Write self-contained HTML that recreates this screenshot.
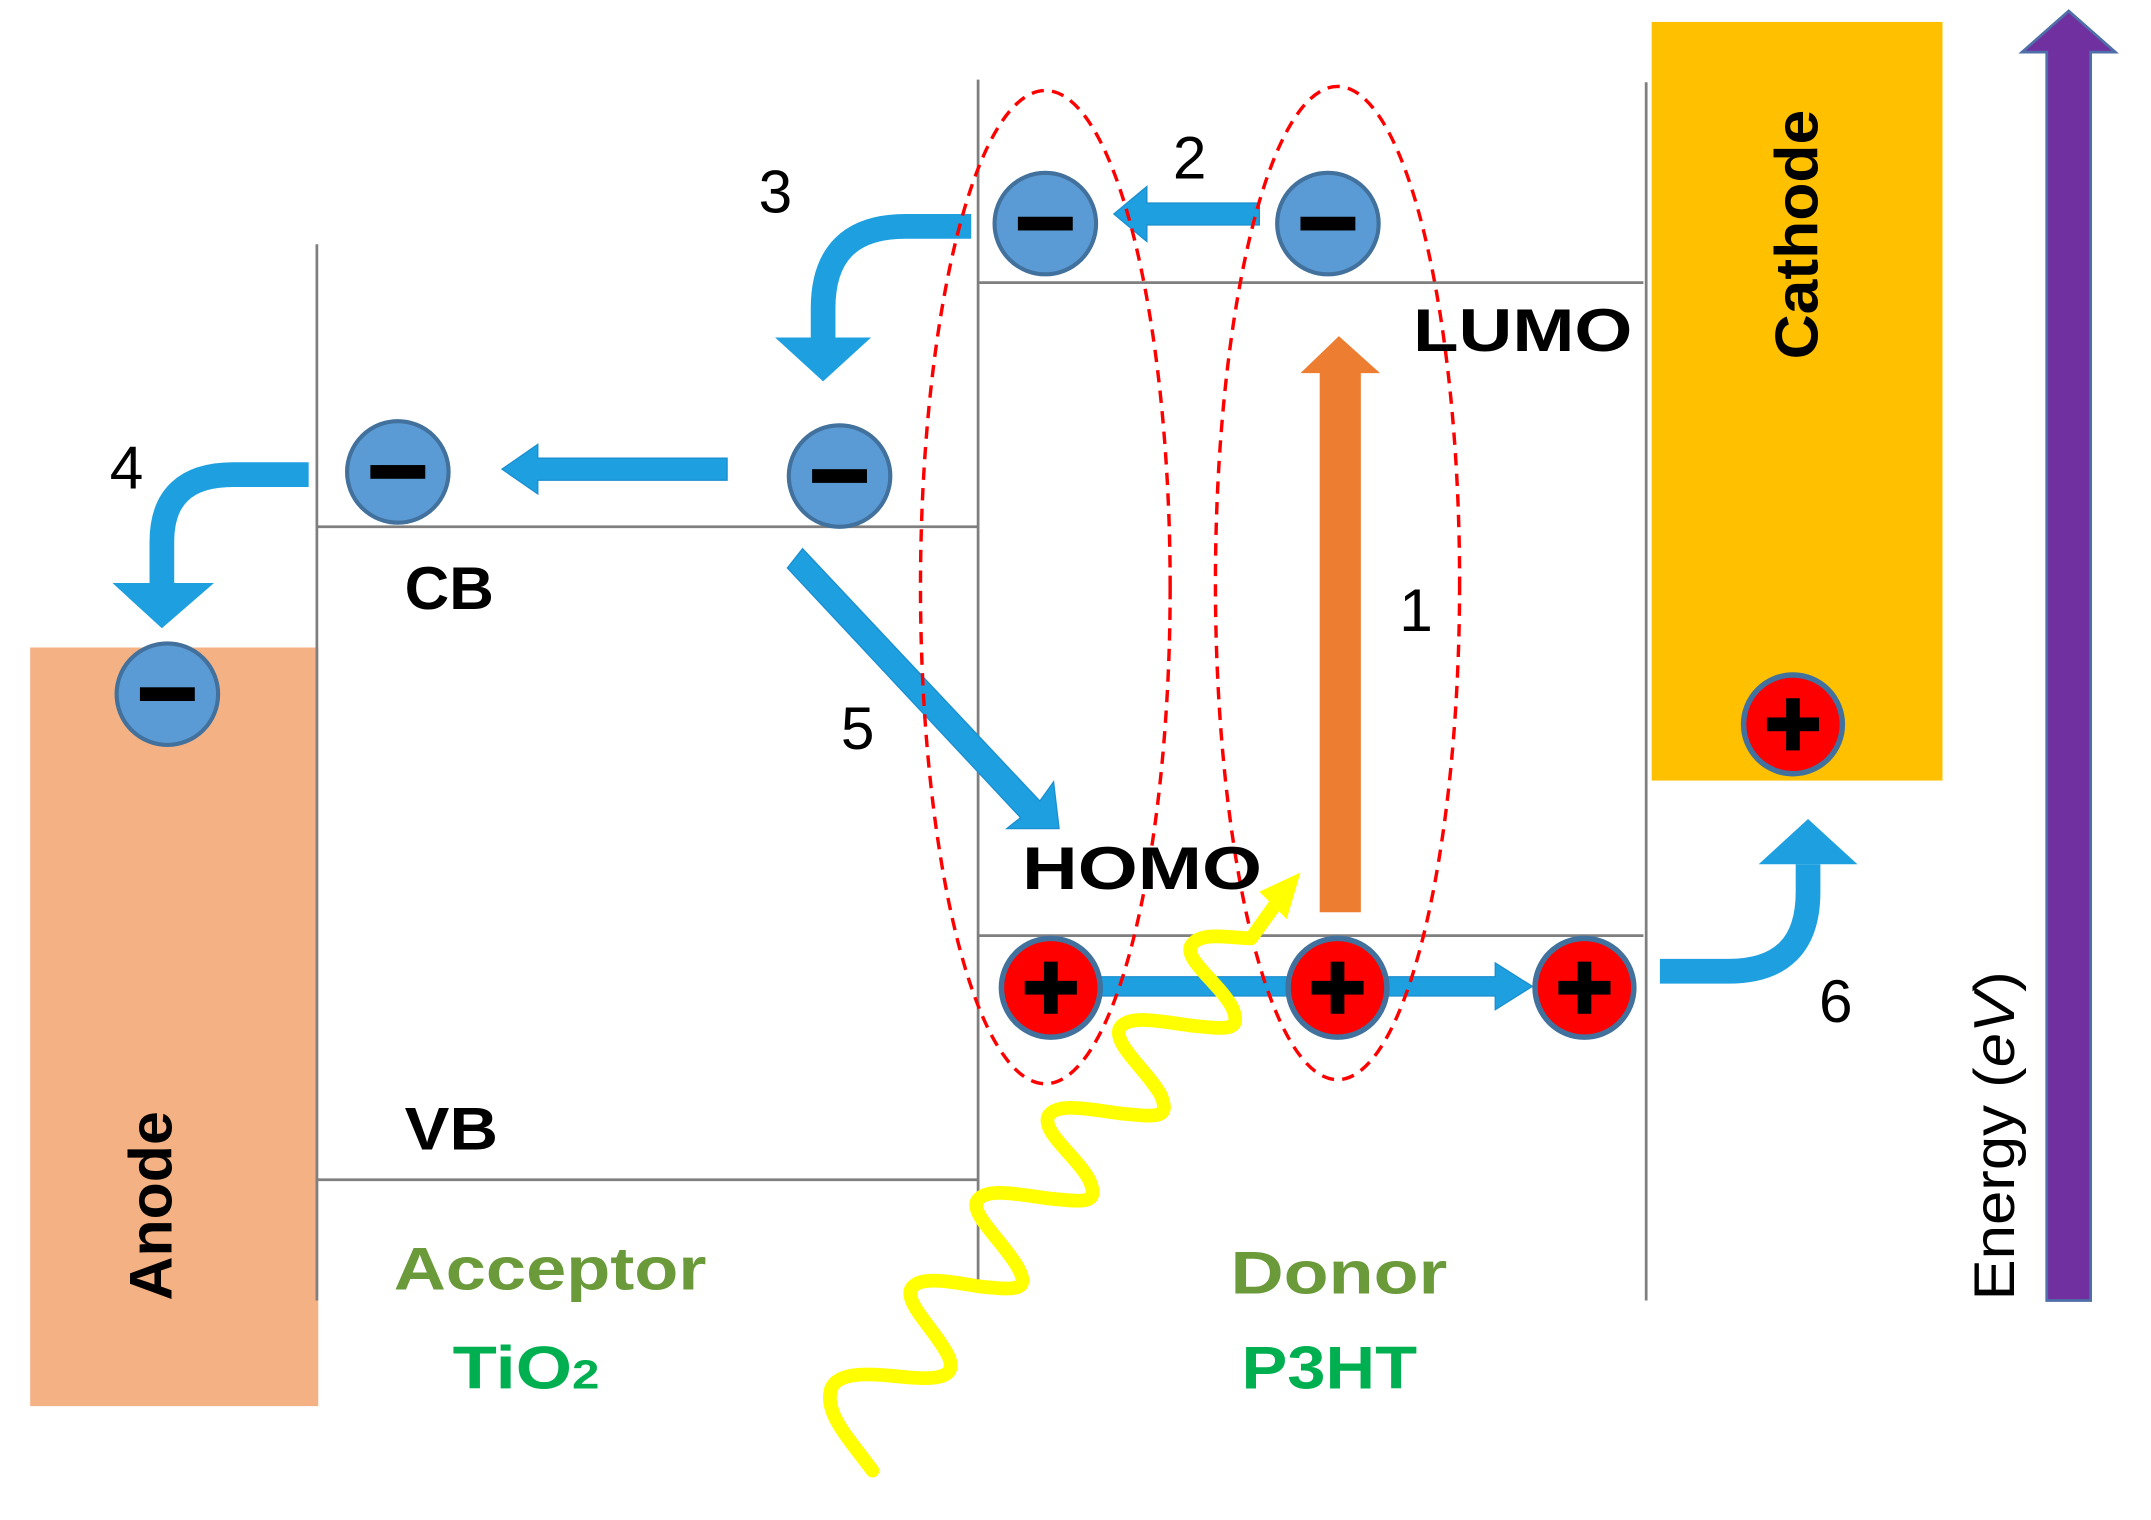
<!DOCTYPE html>
<html><head><style>html,body{margin:0;padding:0;background:#fff}svg{display:block}</style></head><body>
<svg width="2151" height="1520" viewBox="0 0 1568 1108" preserveAspectRatio="none" xmlns="http://www.w3.org/2000/svg" font-family="Liberation Sans, DejaVu Sans, sans-serif">
<defs>
<g id="el"><circle r="37" fill="#5b9bd5" stroke="#41719c" stroke-width="3"/><rect x="-20" y="-5" width="40" height="10" fill="#000"/></g>
<g id="ho"><circle r="36" fill="#ff0000" stroke="#41719c" stroke-width="4"/><rect x="-19" y="-5" width="38" height="10" fill="#000"/><rect x="-5" y="-19" width="10" height="38" fill="#000"/></g>
</defs>
<rect x="22" y="472" width="210" height="553" fill="#f4b183"/>
<rect x="1204" y="16" width="212" height="553" fill="#ffc000"/>
<g stroke="#7f7f7f" stroke-width="2">
<line x1="231" y1="178" x2="231" y2="948"/><line x1="713" y1="58" x2="713" y2="940"/><line x1="1200" y1="60" x2="1200" y2="948"/>
<line x1="231" y1="384" x2="713" y2="384"/><line x1="231" y1="860" x2="713" y2="860"/>
<line x1="713" y1="206" x2="1198" y2="206"/><line x1="713" y1="682" x2="1198" y2="682"/>
</g>
<polygon points="1492,948 1492,38 1474,38 1508,8 1542,38 1524,38 1524,948" fill="#7030a0" stroke="#4f6fa8" stroke-width="2"/>
<polygon points="962,665 962,272 948,272 976,245 1006,272 992,272 992,665" fill="#ed7d31"/>
<g fill="#1ea0e0" stroke="#1b8fd0" stroke-width="1">
<polygon points="918,148 918,164 836,164 836,176 812,156 836,136 836,148"/>
<polygon points="530,334 530,350 392,350 392,360 366,342 392,324 392,334"/>
<polygon points="800,712 800,726 1090,726 1090,736 1117,719 1090,702 1090,712"/>
<polygon points="585,400 574,414 744,596 734,604 772,604 768,570 758,584"/>
</g>
<g fill="none" stroke="#1ea0e0" stroke-width="18">
<path d="M708,165 H660 Q600,165 600,225 V248"/>
<path d="M225,346 H170 Q118,346 118,395 V425"/>
<path d="M1210,708 H1260 Q1318,708 1318,650 V630"/>
</g>
<g fill="#1ea0e0">
<polygon points="565,246 635,246 600,278"/>
<polygon points="82,425 156,425 118,458"/>
<polygon points="1282,630 1354,630 1318,597"/>
</g>
<g fill="none" stroke="#ff0000" stroke-width="2.5" stroke-dasharray="9,6">
<ellipse cx="762" cy="428" rx="91" ry="362"/>
<ellipse cx="975" cy="425" rx="89" ry="362"/>
</g>
<path d="M636,1072 C620,1050 600,1030 606,1012 C612,998 640,1002 662,1004 C684,1006 700,1004 690,986 C680,968 660,950 664,940 C670,928 700,936 716,938 C738,940 752,942 742,924 C732,906 708,886 712,876 C718,864 748,872 768,874 C790,876 802,878 794,860 C784,842 760,826 764,814 C770,802 800,810 820,812 C842,814 854,816 846,798 C836,780 812,762 816,750 C822,738 852,746 872,748 C894,750 906,752 898,734 C888,716 864,700 868,690 C874,678 898,684 912,684 L935,652" fill="none" stroke="#ffff00" stroke-width="10" stroke-linejoin="round" stroke-linecap="round"/>
<polygon points="948,636 918,650 938,670" fill="#ffff00"/>
<use href="#el" x="762" y="163"/><use href="#el" x="968" y="163"/><use href="#el" x="290" y="344"/><use href="#el" x="612" y="347"/><use href="#el" x="122" y="506"/>
<use href="#ho" x="766" y="720"/><use href="#ho" x="975" y="720"/><use href="#ho" x="1155" y="720"/><use href="#ho" x="1307" y="528"/>
<g font-size="44" fill="#000">
<text x="855" y="130">2</text><text x="553" y="155">3</text><text x="80" y="356">4</text><text x="1020" y="460">1</text><text x="613" y="546">5</text><text x="1326" y="745">6</text>
</g>
<g font-weight="bold" font-size="44" fill="#000">
<text x="1030" y="256" textLength="160" lengthAdjust="spacingAndGlyphs">LUMO</text>
<text x="295" y="444" textLength="65" lengthAdjust="spacingAndGlyphs">CB</text>
<text x="745" y="648" textLength="175" lengthAdjust="spacingAndGlyphs">HOMO</text>
<text x="295" y="838" textLength="68" lengthAdjust="spacingAndGlyphs">VB</text>
<text transform="translate(125,948) rotate(-90)" textLength="138" lengthAdjust="spacingAndGlyphs">Anode</text>
<text transform="translate(1325,262) rotate(-90)" textLength="182" lengthAdjust="spacingAndGlyphs">Cathode</text>
</g>
<text transform="translate(1468,948) rotate(-90)" font-size="42" fill="#000" textLength="240" lengthAdjust="spacingAndGlyphs">Energy (<tspan font-style="italic">eV</tspan>)</text>
<g font-weight="bold" font-size="44">
<text x="287" y="940" fill="#6a9a3a" textLength="228" lengthAdjust="spacingAndGlyphs">Acceptor</text>
<text x="897" y="943" fill="#6a9a3a" textLength="158" lengthAdjust="spacingAndGlyphs">Donor</text>
<text x="330" y="1012" fill="#00b050" textLength="107" lengthAdjust="spacingAndGlyphs">TiO<tspan font-size="30">2</tspan></text>
<text x="905" y="1012" fill="#00b050" textLength="128" lengthAdjust="spacingAndGlyphs">P3HT</text>
</g>
</svg>
</body></html>
